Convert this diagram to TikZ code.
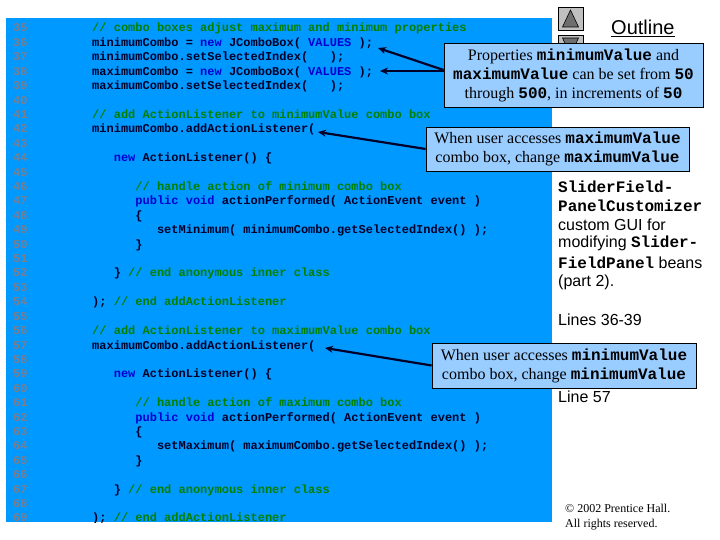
\documentclass[tikz,border=0pt]{standalone}
\usepackage{fontspec}
\setmainfont{Liberation Serif}
\newfontfamily\codefont{Liberation Mono}
\newfontfamily\sansf{Liberation Sans}
\usetikzlibrary{arrows.meta}
\definecolor{panelblue}{RGB}{0,153,255}
\definecolor{calloutfill}{RGB}{153,204,255}
\definecolor{kwblue}{RGB}{0,0,210}
\definecolor{cmgreen}{RGB}{0,128,0}
\definecolor{numgrey}{RGB}{125,125,140}
\definecolor{codeblack}{RGB}{0,0,40}
\definecolor{btngrey}{RGB}{192,192,192}
\definecolor{triagrey}{RGB}{110,110,110}
\newcommand\kw[1]{\textcolor{kwblue}{#1}}
\newcommand\cm[1]{\textcolor{cmgreen}{#1}}
\newcommand\mc[1]{{\codefont\bfseries #1}}
\begin{document}
\begin{tikzpicture}[x=1pt,y=-1pt,
  codeline/.style={anchor=base west,inner sep=0pt,font=\codefont\bfseries\fontsize{12}{14}\selectfont,text=codeblack},
  numline/.style={anchor=base west,inner sep=0pt,font=\codefont\bfseries\fontsize{12}{14}\selectfont,text=numgrey},
  sidetext/.style={anchor=west,inner sep=0pt,font=\sansf\fontsize{16}{19}\selectfont,align=left},
  callout/.style={draw=black,line width=0.8pt,fill=calloutfill,align=center,inner sep=2pt,font=\fontsize{16}{19}\selectfont},
  pointer/.style={line width=2.2pt,draw=codeblack,-{Stealth[length=8pt,width=7pt]}}]
\useasboundingbox (0,0) rectangle (720,540);
\fill[white] (0,0) rectangle (720,540);
% code panel
\fill[panelblue] (6,18) rectangle (552,522);
\begin{scope}
\clip (6,18) rectangle (552,522);
% line numbers
\foreach \n in {35,...,69} {
  \node[numline] (n\n) at (13,{28+14.41*(\n-35)+4}) {\n};
}
\newcommand\codeln[4]{\node[codeline] (#1) at ({92+#3*7.2},{28+14.41*(#2-35)+4}) {#4};}
\codeln{l35}{35}{0}{\cm{// combo boxes adjust maximum and minimum properties}}
\codeln{l36}{36}{0}{minimumCombo = \kw{new} JComboBox( \kw{VALUES} );}
\codeln{l37}{37}{0}{minimumCombo.setSelectedIndex(\ \ \ );}
\codeln{l38}{38}{0}{maximumCombo = \kw{new} JComboBox( \kw{VALUES} );}
\codeln{l39}{39}{0}{maximumCombo.setSelectedIndex(\ \ \ );}
\codeln{l41}{41}{0}{\cm{// add ActionListener to minimumValue combo box}}
\codeln{l42}{42}{0}{minimumCombo.addActionListener(}
\codeln{l44}{44}{3}{\kw{new} ActionListener() \{}
\codeln{l46}{46}{6}{\cm{// handle action of minimum combo box}}
\codeln{l47}{47}{6}{\kw{public void} actionPerformed( ActionEvent event )}
\codeln{l48}{48}{6}{\{}
\codeln{l49}{49}{9}{setMinimum( minimumCombo.getSelectedIndex() );}
\codeln{l50}{50}{6}{\}}
\codeln{l52}{52}{3}{\} \cm{// end anonymous inner class}}
\codeln{l54}{54}{0}{); \cm{// end addActionListener}}
\codeln{l56}{56}{0}{\cm{// add ActionListener to maximumValue combo box}}
\codeln{l57}{57}{0}{maximumCombo.addActionListener(}
\codeln{l59}{59}{3}{\kw{new} ActionListener() \{}
\codeln{l61}{61}{6}{\cm{// handle action of maximum combo box}}
\codeln{l62}{62}{6}{\kw{public void} actionPerformed( ActionEvent event )}
\codeln{l63}{63}{6}{\{}
\codeln{l64}{64}{9}{setMaximum( maximumCombo.getSelectedIndex() );}
\codeln{l65}{65}{6}{\}}
\codeln{l67}{67}{3}{\} \cm{// end anonymous inner class}}
\codeln{l69}{69}{0}{); \cm{// end addActionListener}}
\end{scope}
% navigation buttons
\draw[fill=btngrey,draw=black,line width=0.6pt] (558,7) rectangle (583,30);
\draw[fill=triagrey,draw=black,line width=0.6pt] (570.5,10) -- (578.5,27) -- (562.5,27) -- cycle;
\draw[fill=btngrey,draw=black,line width=0.6pt] (558,35) rectangle (583,58);
\draw[fill=triagrey,draw=black,line width=0.6pt] (570.5,55) -- (578.5,38) -- (562.5,38) -- cycle;
\node[anchor=west,inner sep=0pt,font=\sansf\fontsize{20}{24}\selectfont] (outline) at (611,28) {\underline{Outline}};
% sidebar text
\node[sidetext] (s1) at (558,187) {\mc{SliderField-}};
\node[sidetext] (s2) at (558,205.5) {\mc{PanelCustomizer}};
\node[sidetext] (s3) at (558,224.5) {custom GUI for};
\node[sidetext] (s4) at (558,243.5) {modifying \mc{Slider-}};
\node[sidetext] (s5) at (558,262.5) {\mc{FieldPanel} beans};
\node[sidetext] (s6) at (558,282) {(part 2).};
\node[sidetext] (s7) at (558,320) {Lines 36-39};
\node[sidetext] (s8) at (558,397) {Line 57};
\node[anchor=west,inner sep=0pt,align=left,font=\fontsize{12}{15}\selectfont] (copy) at (565,517.5) {\textcopyright{} 2002 Prentice Hall.\\All rights reserved.};
% callouts
\node[callout,minimum width=259pt,minimum height=64pt] (c1) at (573.5,75) {Properties \mc{minimumValue} and\\\mc{maximumValue} can be set from \mc{50}\\through \mc{500}, in increments of \mc{50}};
\node[callout,minimum width=263pt,minimum height=44pt] (c2) at (557.5,149) {When user accesses \mc{maximumValue}\\combo box, change \mc{maximumValue}};
\node[callout,minimum width=264pt,minimum height=45pt] (c3) at (564,365.5) {When user accesses \mc{minimumValue}\\combo box, change \mc{minimumValue}};
% pointers
\coordinate (t1) at (378,48);
\coordinate (t2) at (380,71);
\coordinate (t3) at (318,132);
\coordinate (t4) at (325,348);
\draw[pointer] ([yshift=5pt]c1.west) -- (t1);
\draw[pointer] ([yshift=4pt]c1.west) -- (t2);
\draw[pointer] (c2.west) -- (t3);
\draw[pointer] (c3.west) -- (t4);
\end{tikzpicture}
\end{document}
